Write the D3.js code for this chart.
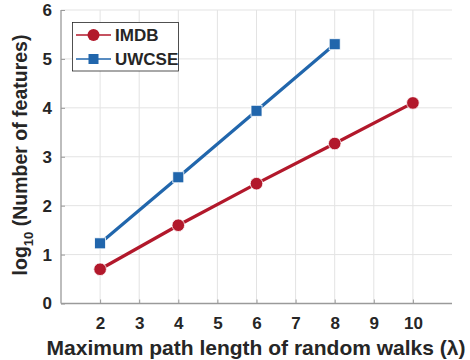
<!DOCTYPE html>
<html><head><meta charset="utf-8">
<script src="https://cdn.jsdelivr.net/npm/d3@7"></script>
<style>body{margin:0;background:#fff}svg{display:block}text{font-family:"Liberation Sans",Arial,sans-serif;font-weight:bold;fill:#262626}</style>
</head><body><svg id="c" width="470" height="360"></svg>
<script>
const xTicks = [2,3,4,5,6,7,8,9,10];
const yTicks = [0,1,2,3,4,5,6];
const imdbX = [2,4,6,8,10];
const imdbY = [0.70,1.60,2.45,3.27,4.10];
const uwcseX = [2,4,6,8];
const uwcseY = [1.23,2.58,3.94,5.30];
const seriesNames = ["IMDB","UWCSE"];
const colors = ["#b2182b","#2166ac"];

const svg = d3.select("#c");
const L=61,R=452,T=10,B=303.5;
const x = d3.scaleLinear().domain([1,11]).range([L,R]);
const y = d3.scaleLinear().domain([0,6]).range([B,T]);

// grid
svg.append("g").selectAll("line").data(xTicks).join("line")
 .attr("x1",d=>x(d)).attr("x2",d=>x(d)).attr("y1",T).attr("y2",B)
 .attr("stroke","#e3e3e3").attr("stroke-width",1);
svg.append("g").selectAll("line").data(yTicks).join("line")
 .attr("x1",L).attr("x2",R).attr("y1",d=>y(d)).attr("y2",d=>y(d))
 .attr("stroke","#e3e3e3").attr("stroke-width",1);

// axes
const xa = svg.append("g").attr("transform",`translate(0,${B})`)
 .call(d3.axisBottom(x).tickValues(xTicks).tickFormat(d3.format("d")).tickSize(-4).tickPadding(13).tickSizeOuter(0));
const ya = svg.append("g").attr("transform",`translate(${L},0)`)
 .call(d3.axisLeft(y).tickValues(yTicks).tickFormat(d3.format("d")).tickSize(-4).tickPadding(9).tickSizeOuter(0));
[xa,ya].forEach(a=>{
  a.select(".domain").attr("stroke","#9a9a9a").attr("stroke-width",1.3);
  a.selectAll(".tick line").attr("stroke","#9a9a9a");
  a.selectAll("text").attr("font-size",17).attr("font-family","Liberation Sans, Arial, sans-serif").attr("font-weight","bold").attr("fill","#262626");
});
xa.select(".domain").attr("d",`M${L},0H${R}`);
ya.select(".domain").attr("d",`M0,${B}V${T}`);

// lines
const data = [{xs:imdbX,ys:imdbY},{xs:uwcseX,ys:uwcseY}];
const line = d3.line().x(d=>x(d[0])).y(d=>y(d[1]));
data.forEach((s,i)=>{
  const pts = s.xs.map((v,j)=>[v,s.ys[j]]);
  svg.append("path").attr("d",line(pts)).attr("fill","none").attr("stroke",colors[i]).attr("stroke-width",3.2);
  if(i===0){
    svg.append("g").selectAll("circle").data(pts).join("circle")
     .attr("cx",d=>x(d[0])).attr("cy",d=>y(d[1])).attr("r",6.3)
     .attr("fill",colors[i]).attr("stroke","#fff").attr("stroke-width",0.8);
  } else {
    svg.append("g").selectAll("rect").data(pts).join("rect")
     .attr("x",d=>x(d[0])-5.5).attr("y",d=>y(d[1])-5.5).attr("width",11).attr("height",11)
     .attr("fill",colors[i]).attr("stroke","#fff").attr("stroke-width",0.8);
  }
});

// legend
const lg = svg.append("g");
lg.append("rect").attr("x",72.5).attr("y",22.5).attr("width",106).attr("height",48.5)
  .attr("fill","#fff").attr("stroke","#262626").attr("stroke-width",0.8);
seriesNames.forEach((n,i)=>{
  const cy = 35 + i*24;
  lg.append("line").attr("x1",76).attr("x2",111).attr("y1",cy).attr("y2",cy).attr("stroke",colors[i]).attr("stroke-width",1.3);
  if(i===0) lg.append("circle").attr("cx",93.5).attr("cy",cy).attr("r",6).attr("fill",colors[i]);
  else lg.append("rect").attr("x",88.5).attr("y",cy-5).attr("width",10).attr("height",10).attr("fill",colors[i]);
  lg.append("text").attr("x",115).attr("y",cy+6).attr("font-size",17).text(n);
});

// axis titles
svg.append("text").attr("x",256).attr("y",355).attr("text-anchor","middle").attr("font-size",21)
  .text("Maximum path length of random walks (λ)");
const yt = svg.append("text").attr("transform","translate(27,155) rotate(-90)").attr("text-anchor","middle").attr("font-size",19.5);
yt.append("tspan").text("log");
yt.append("tspan").attr("font-size",13).attr("dy",6).text("10");
yt.append("tspan").attr("dy",-6).text(" (Number of features)");
</script></body></html>
